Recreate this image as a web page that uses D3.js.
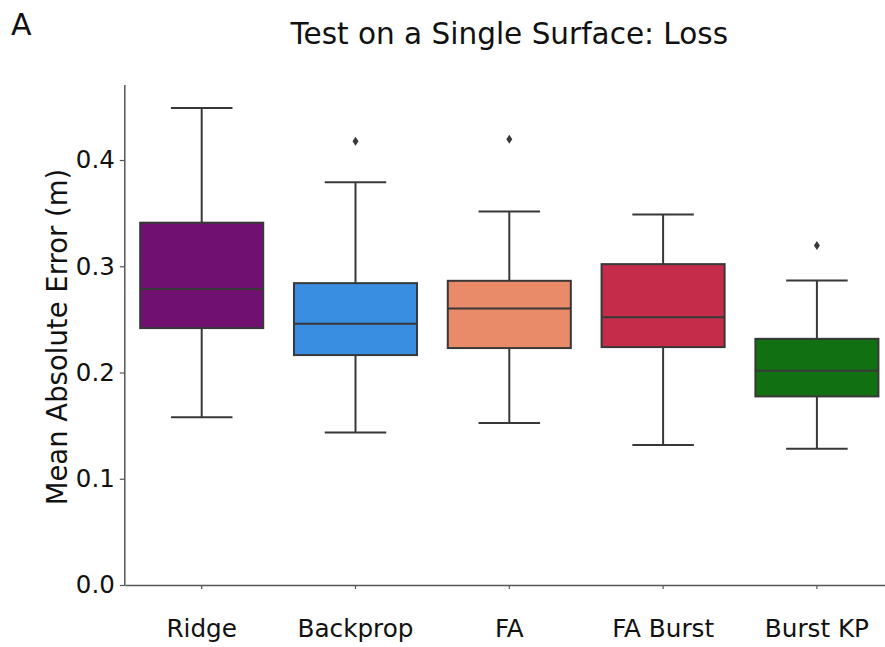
<!DOCTYPE html>
<html>
<head>
<meta charset="utf-8">
<script src="https://cdn.jsdelivr.net/npm/d3@7"></script>
<style>
  body { margin: 0; background: #fff; }
  svg { display: block; font-family: "DejaVu Sans", sans-serif; }
</style>
</head>
<body>
<svg id="chart" width="885" height="647"></svg>
<script>
const categories = ["Ridge", "Backprop", "FA", "FA Burst", "Burst KP"];
const whiskerLow = [0.158, 0.1436, 0.1524, 0.1317, 0.1282];
const q1 = [0.2418, 0.2164, 0.223, 0.2239, 0.1775];
const median = [0.2785, 0.2458, 0.2603, 0.2521, 0.2016];
const q3 = [0.341, 0.2841, 0.2863, 0.302, 0.2317];
const whiskerHigh = [0.449, 0.379, 0.3515, 0.3487, 0.2866];
const outliers = [[], [0.4177], [0.4196], [], [0.3196]];
const colors = ["#701070", "#3a8ee2", "#e98a68", "#c42c4a", "#117011"];
const yTicks = [0.0, 0.1, 0.2, 0.3, 0.4];

const settings = {
  left: 124.8,
  right: 893.8,
  top: 85,
  bottom: 585,
  lineColor: "#383838",
  axisColor: "#555",
};

const svg = d3.select("#chart");

const x = d3
  .scaleBand()
  .domain(categories)
  .range([settings.left, settings.right])
  .paddingInner(0.2)
  .paddingOuter(0.1);

const y = d3
  .scaleLinear()
  .domain([0, 0.4706])
  .range([settings.bottom, settings.top]);

const boxes = categories.map((c, i) => ({
  name: c,
  lo: whiskerLow[i],
  q1: q1[i],
  med: median[i],
  q3: q3[i],
  hi: whiskerHigh[i],
  out: outliers[i],
  color: colors[i],
}));

// axes
const yaxis = d3.axisLeft(y).tickValues(yTicks).tickFormat(d3.format(".1f")).tickSize(5).tickPadding(5);
svg
  .append("g")
  .attr("class", "yaxis")
  .attr("transform", `translate(${settings.left}, 0)`)
  .call(yaxis)
  .call((g) => g.selectAll(".domain").attr("stroke", settings.axisColor).attr("stroke-width", 1.5)
    .attr("d", `M0,${settings.top}V${settings.bottom}`))
  .call((g) => g.selectAll(".tick line").attr("stroke", settings.axisColor).attr("stroke-width", 1.2))
  .call((g) => g.selectAll(".tick text")
    .attr("font-family", "DejaVu Sans")
    .attr("font-size", "24.5px")
    .attr("fill", "#111"));

const xaxis = d3.axisBottom(x).tickSize(4).tickSizeOuter(0).tickPadding(30);
svg
  .append("g")
  .attr("class", "xaxis")
  .attr("transform", `translate(0, ${settings.bottom})`)
  .call(xaxis)
  .call((g) => g.selectAll(".domain").attr("stroke", settings.axisColor).attr("stroke-width", 1.5))
  .call((g) => g.selectAll(".tick line").attr("stroke", settings.axisColor).attr("stroke-width", 1.2))
  .call((g) => g.selectAll(".tick text")
    .attr("font-family", "DejaVu Sans")
    .attr("font-size", "24.7px")
    .attr("fill", "#111"));

// boxes
const g = svg
  .append("g")
  .attr("class", "boxes")
  .selectAll("g")
  .data(boxes)
  .join("g");

const cx = (d) => x(d.name) + x.bandwidth() / 2;
const capHalf = x.bandwidth() / 4;

g.append("line")
  .attr("x1", cx).attr("x2", cx)
  .attr("y1", (d) => y(d.hi)).attr("y2", (d) => y(d.q3))
  .attr("stroke", settings.lineColor).attr("stroke-width", 2);
g.append("line")
  .attr("x1", cx).attr("x2", cx)
  .attr("y1", (d) => y(d.q1)).attr("y2", (d) => y(d.lo))
  .attr("stroke", settings.lineColor).attr("stroke-width", 2);
g.append("line")
  .attr("x1", (d) => cx(d) - capHalf).attr("x2", (d) => cx(d) + capHalf)
  .attr("y1", (d) => y(d.hi)).attr("y2", (d) => y(d.hi))
  .attr("stroke", settings.lineColor).attr("stroke-width", 2);
g.append("line")
  .attr("x1", (d) => cx(d) - capHalf).attr("x2", (d) => cx(d) + capHalf)
  .attr("y1", (d) => y(d.lo)).attr("y2", (d) => y(d.lo))
  .attr("stroke", settings.lineColor).attr("stroke-width", 2);

g.append("rect")
  .attr("x", (d) => x(d.name))
  .attr("width", x.bandwidth())
  .attr("y", (d) => y(d.q3))
  .attr("height", (d) => y(d.q1) - y(d.q3))
  .attr("fill", (d) => d.color)
  .attr("stroke", settings.lineColor)
  .attr("stroke-width", 2);

g.append("line")
  .attr("x1", (d) => x(d.name)).attr("x2", (d) => x(d.name) + x.bandwidth())
  .attr("y1", (d) => y(d.med)).attr("y2", (d) => y(d.med))
  .attr("stroke", settings.lineColor).attr("stroke-width", 2);

// outliers as thin diamonds
g.selectAll("path.flier")
  .data((d) => d.out.map((v) => ({ v, c: cx(d) })))
  .join("path")
  .attr("class", "flier")
  .attr("d", (o) => {
    const py = y(o.v);
    return `M${o.c},${py - 4.5}L${o.c + 3},${py}L${o.c},${py + 4.5}L${o.c - 3},${py}Z`;
  })
  .attr("fill", settings.lineColor);

// labels
svg
  .append("text")
  .attr("x", (settings.left + settings.right) / 2)
  .attr("y", 44)
  .attr("text-anchor", "middle")
  .attr("font-size", "29.5px")
  .attr("fill", "#111")
  .text("Test on a Single Surface: Loss");

svg
  .append("text")
  .attr("x", 11)
  .attr("y", 35)
  .attr("font-size", "30px")
  .attr("fill", "#111")
  .text("A");

svg
  .append("text")
  .attr("transform", `translate(67, ${(settings.top + settings.bottom) / 2 + 2}) rotate(-90)`)
  .attr("text-anchor", "middle")
  .attr("font-size", "27.5px")
  .attr("fill", "#111")
  .text("Mean Absolute Error (m)");
</script>
</body>
</html>
